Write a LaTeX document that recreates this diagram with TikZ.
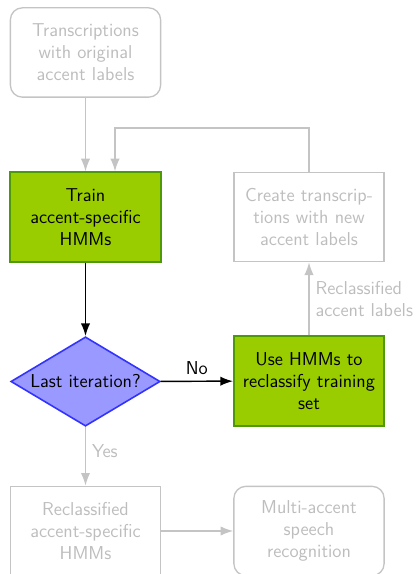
\documentclass[tikz,border=0pt]{standalone}
\usepackage{tikz}
\usetikzlibrary{shapes.geometric,arrows.meta}
\definecolor{fadegray}{HTML}{C4C4C4}
\definecolor{fadetext}{HTML}{BDBDBD}
\definecolor{leafgreen}{HTML}{9ACD00}
\definecolor{darkleaf}{HTML}{4E9A06}
\definecolor{lilac}{HTML}{9999FF}
\definecolor{deepblue}{HTML}{3333FF}

\tikzset{
    every node/.style={font=\sffamily\fontsize{14}{16.5}\selectfont},
    faded/.style={draw=fadegray, text=fadetext, line width=1pt},
    box/.style={rectangle, minimum width=111pt, minimum height=67pt, text width=106pt, align=center},
    roundbox/.style={box, rounded corners=9pt},
    activebox/.style={box, fill=leafgreen, draw=darkleaf, line width=1.4pt},
    decision/.style={diamond, aspect=1.66, fill=lilac, draw=deepblue, line width=1.2pt, inner sep=1pt},
    fadearrow/.style={draw=fadegray, line width=1.1pt, -{Latex[length=9.5pt,width=7pt]}},
    blackarrow/.style={draw=black, line width=1.1pt, -{Latex[length=9.5pt,width=7pt]}},
}

\begin{document}
\begin{tikzpicture}[x=0.75pt, y=-0.75pt]
    \useasboundingbox (0,0) rectangle (418,574);

    % left column
        \node [roundbox, faded] (orig) at (85.5, 52.5) {Transcriptions\\with original\\accent labels};
        \node [activebox] (train) at (85.5, 217) {Train\\accent-specific\\HMMs};
        \node [decision, minimum width=112pt, minimum height=67pt] (last) at (85.5, 381.5) {Last iteration?};
        \node [box, faded] (recl) at (85.5, 531) {Reclassified\\accent-specific\\HMMs};

    % right column
        \node [box, faded] (create) at (309, 217) {Create transcrip-\\tions with new\\accent labels};
        \node [activebox] (use) at (309, 381) {Use HMMs to\\reclassify training\\set};
        \node [roundbox, faded] (multi) at (309, 531) {Multi-accent\\speech\\recognition};

    % connectors
        \draw [fadearrow] (orig) -- (train);
        \coordinate (loop) at (115, 128);
        \draw [fadearrow] (create.north) |- (loop) -- (loop |- train.north);
        \draw [blackarrow] (train) -- (last);
        \draw [blackarrow] (last) -- node [above, yshift=1pt] {No} (use);
        \draw [fadearrow] (use) -- node [right, text=fadetext, align=left, xshift=1pt] {Reclassified\\accent labels} (create);
        \draw [fadearrow] (last) -- node [right, text=fadetext, xshift=1pt, yshift=4pt] {Yes} (recl);
        \draw [fadearrow] (recl) -- (multi);

\end{tikzpicture}
\end{document}
